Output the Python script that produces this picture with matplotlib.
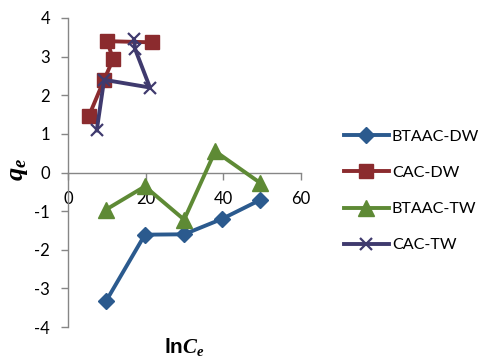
import matplotlib
matplotlib.use("Agg")
import matplotlib.pyplot as plt

# lnCe vs qe for the two adsorbents in distilled (DW) and tap (TW) water
btaac_dw_x = [9.8, 19.8, 29.9, 39.7, 49.5]
btaac_dw_y = [-3.33, -1.61, -1.60, -1.20, -0.71]

cac_dw_x = [5.4, 9.3, 11.6, 10.1, 21.6]
cac_dw_y = [1.47, 2.40, 2.93, 3.40, 3.37]

btaac_tw_x = [9.8, 19.8, 29.9, 37.9, 49.5]
btaac_tw_y = [-0.96, -0.36, -1.22, 0.55, -0.27]

cac_tw_x = [7.4, 9.3, 21.1, 17.3, 17.0]
cac_tw_y = [1.09, 2.40, 2.20, 3.19, 3.45]

series_names = ["BTAAC-DW", "CAC-DW", "BTAAC-TW", "CAC-TW"]

plt.rcParams["font.family"] = ["Lato", "DejaVu Sans"]
plt.rcParams["axes.unicode_minus"] = False
plt.rcParams["mathtext.fontset"] = "custom"
plt.rcParams["mathtext.it"] = "Liberation Serif:bold:italic"
plt.rcParams["mathtext.bf"] = "Liberation Sans:bold"
plt.rcParams["mathtext.rm"] = "Liberation Serif:bold"

fig = plt.figure(figsize=(4.8, 3.59), dpi=100)
ax = fig.add_axes([68 / 480, 1 - 327 / 359, 233 / 480, 309 / 359])

lw = 2.8
ax.plot(btaac_dw_x, btaac_dw_y, color="#2B5A8E", lw=lw, marker="D", ms=8.5,
        label=series_names[0], zorder=3)
ax.plot(cac_dw_x, cac_dw_y, color="#8B2B2E", lw=lw, marker="s", ms=10.5,
        label=series_names[1], zorder=3)
ax.plot(btaac_tw_x, btaac_tw_y, color="#5E8A35", lw=lw, marker="^", ms=11,
        label=series_names[2], zorder=3)
ax.plot(cac_tw_x, cac_tw_y, color="#3F3A6E", lw=lw, marker="x", ms=9, mew=1.6,
        label=series_names[3], zorder=4)

ax.set_xlim(0, 60)
ax.set_ylim(-4, 4)
ax.set_xticks([0, 20, 40, 60])
ax.set_yticks(range(-4, 5))

# axes cross at the origin, Excel style
ax.spines["left"].set_position(("data", 0))
ax.spines["bottom"].set_position(("data", 0))
ax.spines["top"].set_visible(False)
ax.spines["right"].set_visible(False)
for side in ("left", "bottom"):
    ax.spines[side].set_color("#868686")
    ax.spines[side].set_linewidth(1.0)
ax.tick_params(direction="out", length=5, width=1.0, color="#868686",
               labelsize=12, pad=8)

ax.set_ylabel(r"$q_e$", fontsize=19, rotation=90)
ax.yaxis.set_label_coords(-0.165, 0.51)
ax.set_xlabel(r"$\mathbf{ln}C_e$", fontsize=15)
ax.xaxis.set_label_coords(0.5, -0.03)

fig.legend(loc="center left", bbox_to_anchor=(329 / 480, 1 - 191 / 359),
           frameon=False, fontsize=11.6, handlelength=2.8, handletextpad=0.2,
           labelspacing=1.35)

fig.savefig("out.png", dpi=100)
